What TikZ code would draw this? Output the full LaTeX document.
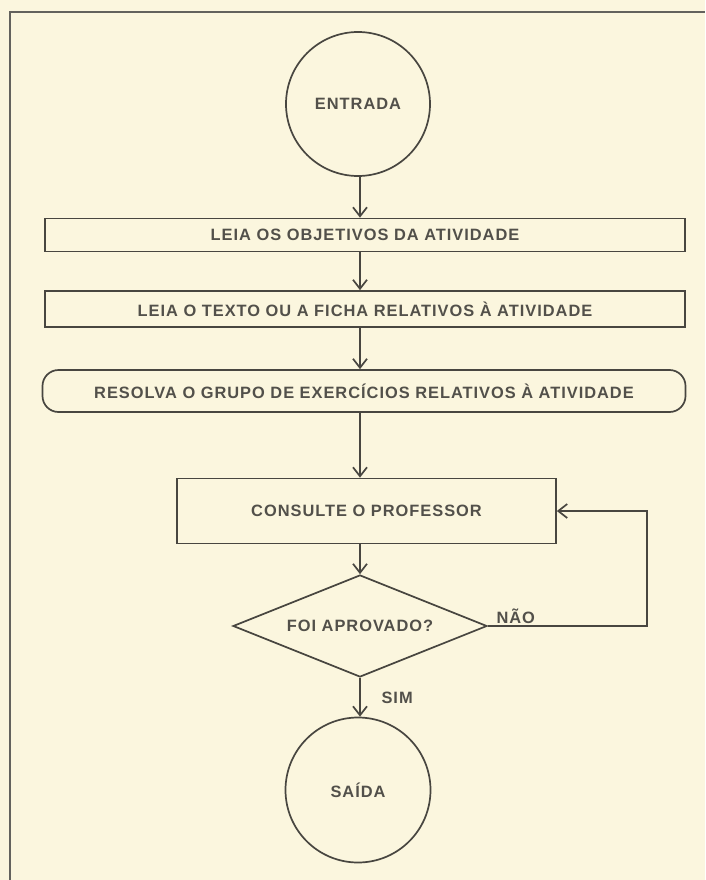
\documentclass[tikz,border=0pt]{standalone}
\usepackage{fontspec}
\setmainfont{Liberation Sans}
\newfontfamily\labfont[LetterSpace=6]{Liberation Sans Bold}
\usetikzlibrary{shapes.geometric,arrows.meta}
\definecolor{paper}{RGB}{251,246,222}
\definecolor{ink}{RGB}{72,70,64}
\definecolor{txt}{RGB}{82,80,74}
\tikzset{
  x=1pt,y=-1pt,
  lbl/.style={font=\labfont\fontsize{16.4}{17}\selectfont, text=txt},
  shp/.style={draw=ink, line width=1.7pt, lbl, inner sep=0pt},
  boxnode/.style={shp, rectangle},
  termnode/.style={shp, circle},
  decnode/.style={shp, diamond, shape aspect=2.5},
  conn/.style={draw=ink, line width=1.7pt, -{Straight Barb[length=9pt,width=14pt]}},
  framel/.style={draw=ink!85, line width=1.8pt}
}
\begin{document}
\begin{tikzpicture}
\fill[paper] (0,0) rectangle (705,880);
\useasboundingbox (0,0) rectangle (705,880);
\draw[framel] (10,880) -- (10,12) -- (705,12);

\node[termnode, minimum size=144pt] (entrada) at (358,104) {ENTRADA};
\node[boxnode, minimum width=640pt, minimum height=33pt] (b1) at (365,235) {LEIA OS OBJETIVOS DA ATIVIDADE};
\node[boxnode, minimum width=640pt, minimum height=36pt] (b2) at (365,309) {LEIA O TEXTO OU A FICHA RELATIVOS À ATIVIDADE};
\node[boxnode, rounded corners=16pt, minimum width=643pt, minimum height=42pt] (b3) at (364,391) {RESOLVA O GRUPO DE EXERCÍCIOS RELATIVOS À ATIVIDADE};
\node[boxnode, minimum width=379pt, minimum height=65pt] (b4) at (366.5,511) {CONSULTE O PROFESSOR};
\node[decnode, minimum width=254pt, minimum height=102pt] (dia) at (360,626) {FOI APROVADO?};
\node[termnode, minimum size=145pt] (saida) at (358,790) {SAÍDA};

\coordinate (ax) at (360,0);
\coordinate (loop) at (647,626);

\draw[conn] (entrada.south -| ax) -- (b1.north -| ax);
\draw[conn] (b1.south -| ax) -- (b2.north -| ax);
\draw[conn] (b2.south -| ax) -- (b3.north -| ax);
\draw[conn] (b3.south -| ax) -- (b4.north -| ax);
\draw[conn] (b4.south -| ax) -- (dia.north);
\draw[conn] (dia.south) -- (saida.north -| ax);
\draw[conn] (dia.east) -- (loop) |- (b4.east);

\node[lbl, anchor=west] (nao) at (493,616) {NÃO};
\node[lbl, anchor=west] (sim) at (378,698) {SIM};
\end{tikzpicture}
\end{document}
